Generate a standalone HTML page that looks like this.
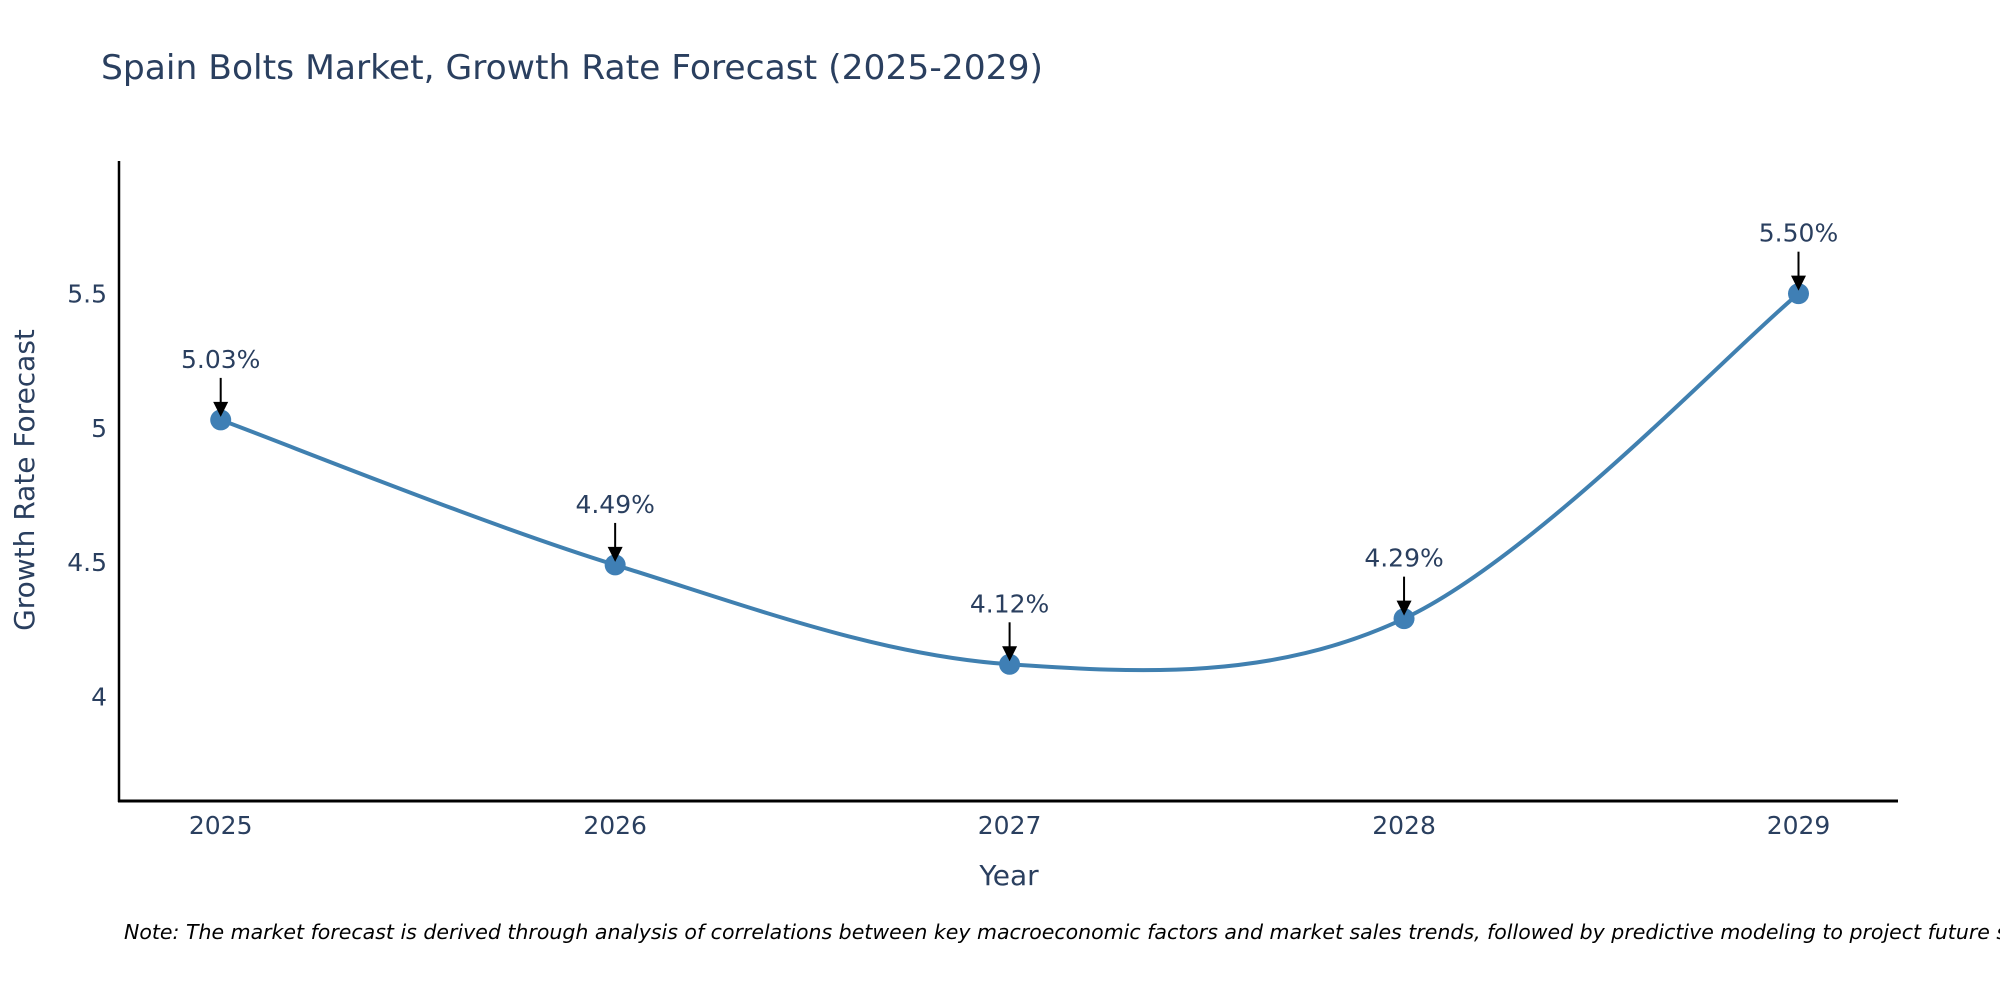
<!DOCTYPE html>
<html><head><meta charset="utf-8"><style>
html,body{margin:0;padding:0;background:#fff;overflow:hidden;}
svg{display:block;font-family:"DejaVu Sans","Liberation Sans",sans-serif;}
</style></head><body>
<svg width="2000" height="1000" viewBox="0 0 2000 1000">
<text x="101" y="79" font-size="34" fill="#2a3f5f" textLength="942" lengthAdjust="spacingAndGlyphs">Spain Bolts Market, Growth Rate Forecast (2025-2029)</text>
<g id="plot"></g>
<text transform="translate(34,480) rotate(-90)" text-anchor="middle" font-size="28" fill="#2a3f5f">Growth Rate Forecast</text>
<text x="1009" y="885" text-anchor="middle" font-size="28" fill="#2a3f5f">Year</text>
<text x="124" y="939" font-size="20.5" font-style="italic" fill="#000">Note: The market forecast is derived through analysis of correlations between key macroeconomic factors and market sales trends, followed by predictive modeling to project future sales</text>
</svg>
<script>
const years = ["2025","2026","2027","2028","2029"];
const values = [5.03, 4.49, 4.12, 4.29, 5.50];
const valueLabels = ["5.03%","4.49%","4.12%","4.29%","5.50%"];
const yTicks = [4, 4.5, 5, 5.5];
const yTickLabels = ["4","4.5","5","5.5"];

const NS = "http://www.w3.org/2000/svg";
const L = 119, R = 1898, T = 161, B = 801;
const yMin = 3.611, yMax = 5.994;
function xs(i){ return 220.7 + i * 394.45; }
function ys(v){ return B - (v - yMin) / (yMax - yMin) * (B - T); }
const g = document.getElementById('plot');
function mk(tag, attrs){ const e = document.createElementNS(NS, tag); for (const k in attrs) e.setAttribute(k, attrs[k]); g.appendChild(e); return e; }

let ax = mk('line', {x1:L, y1:T, x2:L, y2:B+1, stroke:'#000', 'stroke-width':2.5});


ax = mk('line', {x1:L-1, y1:B, x2:R, y2:B, stroke:'#000', 'stroke-width':3});



yTicks.forEach((v, i) => {
  const t = mk('text', {x:L-12, y:ys(v)+9, 'text-anchor':'end', 'font-size':25, fill:'#2a3f5f'});
  t.textContent = yTickLabels[i];
  
  
});
years.forEach((y, i) => {
  const t = mk('text', {x:xs(i), y:834, 'text-anchor':'middle', 'font-size':25, fill:'#2a3f5f'});
  t.textContent = y;
  
  
});

const pts = values.map((v, i) => [xs(i), ys(v)]);
let d = 'M' + pts[0][0] + ',' + pts[0][1];
for (let i = 0; i < pts.length - 1; i++) {
  const p0 = pts[Math.max(0, i-1)], p1 = pts[i], p2 = pts[i+1], p3 = pts[Math.min(pts.length-1, i+2)];
  const s = 1/6;
  const c1 = [p1[0] + (p2[0]-p0[0])*s, p1[1] + (p2[1]-p0[1])*s];
  const c2 = [p2[0] - (p3[0]-p1[0])*s, p2[1] - (p3[1]-p1[1])*s];
  d += ' C' + c1.join(',') + ' ' + c2.join(',') + ' ' + p2.join(',');
}
const line = mk('path', {d:d, fill:'none', stroke:'#4080b0', 'stroke-width':4});



pts.forEach((p, i) => {
  const c = mk('circle', {cx:p[0], cy:p[1], r:10.5, fill:'#3f7fb5'});
  
  
  const a = mk('line', {x1:p[0], y1:p[1]-42, x2:p[0], y2:p[1]-14, stroke:'#000', 'stroke-width':2});
  
  
  const h = mk('path', {d:`M${p[0]-7.5},${p[1]-18} L${p[0]+7.5},${p[1]-18} L${p[0]},${p[1]-3} Z`, fill:'#000'});
  
  
  const t = mk('text', {x:p[0], y:p[1]-52, 'text-anchor':'middle', 'font-size':25, fill:'#2a3f5f'});
  t.textContent = valueLabels[i];
  
  
});
</script>
</body></html>
